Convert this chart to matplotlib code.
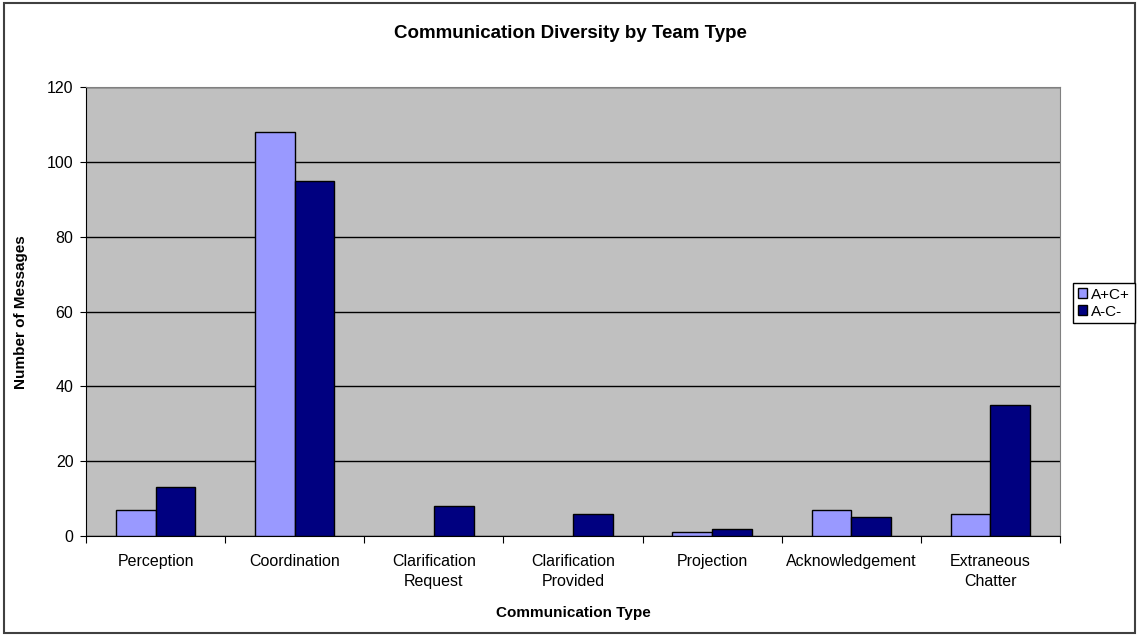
import numpy as np
import matplotlib.pyplot as plt
from matplotlib.patches import Rectangle, Patch

plt.rcParams['font.family'] = ['Liberation Sans', 'DejaVu Sans']

categories = ['Perception', 'Coordination', 'Clarification\nRequest',
              'Clarification\nProvided', 'Projection', 'Acknowledgement',
              'Extraneous\nChatter']
team_pos = [7, 108, 0, 0, 1, 7, 6]     # A+C+
team_neg = [13, 95, 8, 6, 2, 5, 35]    # A-C-
series_names = ['A+C+', 'A-C-']
yticks = [0, 20, 40, 60, 80, 100, 120]

light = '#9999FF'
dark = '#000080'

fig = plt.figure(figsize=(11.38, 6.36), dpi=100)
ax = fig.add_axes([86 / 1138, 1 - 536 / 636, (1060 - 86) / 1138, (536 - 87) / 636])
ax.set_facecolor('#C0C0C0')

x = np.arange(len(categories))
w = 1 / 3.5
# zero-height bars get no outline
ax.bar(x - w / 2, team_pos, w, color=light, edgecolor='black',
       linewidth=[1 if v else 0 for v in team_pos], zorder=3)
ax.bar(x + w / 2, team_neg, w, color=dark, edgecolor='black',
       linewidth=[1 if v else 0 for v in team_neg], zorder=3)

ax.set_xlim(-0.5, len(categories) - 0.5)
ax.set_ylim(0, 120)
ax.set_yticks(yticks)
ax.yaxis.grid(True, color='black', linewidth=1, zorder=1)
ax.set_axisbelow(True)

# boundary ticks between categories, labels at centers
ax.set_xticks(np.arange(len(categories) + 1) - 0.5)
ax.set_xticklabels([])
ax.set_xticks(x, minor=True)
ax.set_xticklabels(categories, minor=True, fontsize=11.5, linespacing=1.4)
ax.tick_params(axis='x', which='major', direction='out', length=5, color='black')
ax.tick_params(axis='x', which='minor', length=0, pad=13)
ax.tick_params(axis='y', direction='out', length=4, labelsize=11.5, pad=5)

for side in ['top', 'right']:
    ax.spines[side].set_color('#808080')
for side in ['left', 'bottom']:
    ax.spines[side].set_color('black')

ax.set_xlabel('Communication Type', fontsize=11, fontweight='bold', labelpad=12)
fig.text(21 / 1138, 1 - 312 / 636, 'Number of Messages', rotation=90,
         ha='center', va='center', fontsize=11, fontweight='bold')
fig.text(570 / 1138, 1 - 34 / 636, 'Communication Diversity by Team Type',
         ha='center', va='center', fontsize=13.5, fontweight='bold')

handles = [Patch(facecolor=light, edgecolor='black'),
           Patch(facecolor=dark, edgecolor='black')]
leg = fig.legend(handles, series_names, loc='upper left',
                 bbox_to_anchor=(1073 / 1138, 1 - 283 / 636), fontsize=11,
                 handlelength=0.6, handleheight=0.6, handletextpad=0.3,
                 borderpad=0.3, labelspacing=0.2, borderaxespad=0,
                 fancybox=False, framealpha=1, edgecolor='black')
leg.get_frame().set_linewidth(1)

fig.patches.append(Rectangle((4 / 1138, 3 / 636), 1131 / 1138, 630 / 636,
                             transform=fig.transFigure, fill=False,
                             edgecolor='#404040', linewidth=1.5))

fig.savefig('out.png', dpi=100)
